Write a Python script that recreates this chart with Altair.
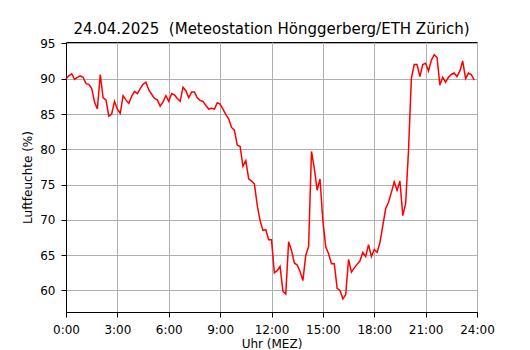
import altair as alt
import pandas as pd

# Relative humidity (%) at 10-minute steps, 00:00 .. 23:50
humidity = [
    90.0, 90.4, 90.7, 89.9, 90.2, 90.4, 90.2, 89.3, 89.2, 88.6,
    86.7, 85.7, 90.6, 87.3, 87.0, 84.7, 85.0, 86.8, 85.7, 85.1,
    87.6, 87.0, 86.5, 87.5, 88.2, 87.9, 88.6, 89.2, 89.5, 88.4,
    87.8, 87.2, 87.0, 86.1, 86.7, 87.6, 86.8, 87.9, 87.7, 87.2,
    86.8, 88.8, 88.3, 87.3, 88.1, 88.1, 87.3, 86.9, 86.8, 86.2,
    85.7, 85.8, 85.7, 86.6, 86.4, 85.7, 84.9, 84.3, 83.1, 82.7,
    80.6, 80.4, 77.6, 78.4, 75.8, 75.5, 75.1, 72.1, 69.9, 68.5,
    68.6, 67.2, 67.2, 62.5, 62.8, 63.4, 59.9, 59.5, 66.9, 65.7,
    63.9, 63.6, 62.7, 61.4, 65.0, 66.2, 79.7, 77.3, 74.2, 75.8,
    69.9, 66.2, 65.2, 63.8, 63.8, 60.3, 60.0, 58.8, 59.4, 64.4,
    62.6, 63.2, 63.7, 64.2, 65.4, 64.8, 66.5, 64.8, 65.8, 65.4,
    66.8, 69.2, 71.6, 72.5, 73.9, 75.4, 74.2, 75.5, 70.6, 72.3,
    79.8, 90.0, 92.0, 92.0, 90.3, 92.0, 92.2, 91.1, 92.6, 93.4,
    93.0, 89.1, 90.2, 89.5, 90.2, 90.6, 90.8, 90.3, 91.1, 92.5,
    90.0, 90.8, 90.6, 89.8,
]
minutes = list(range(0, 1440, 10))
tick_hours = [0, 3, 6, 9, 12, 15, 18, 21, 24]
tick_values = [60, 65, 70, 75, 80, 85, 90, 95]

title_text = "24.04.2025\u00a0 (Meteostation Hönggerberg/ETH Zürich)"

df = pd.DataFrame({"hour": [m / 60 for m in minutes], "rh": humidity})

FONT = "DejaVu Sans"

chart = (
    alt.Chart(df)
    .mark_line(color="#ff0000", strokeWidth=1.5)
    .encode(
        x=alt.X(
            "hour:Q",
            scale=alt.Scale(domain=[0, 24], nice=False, zero=False),
            axis=alt.Axis(
                values=tick_hours,
                labelExpr="datum.value + ':00'",
                title="Uhr (MEZ)",
                titleY=35,
                titleBaseline="alphabetic",
                labelBaseline="alphabetic",
                labelPadding=16,
                labelFlush=False,
            ),
        ),
        y=alt.Y(
            "rh:Q",
            scale=alt.Scale(domain=[56.95, 95.2], nice=False, zero=False),
            axis=alt.Axis(
                values=tick_values,
                title="Luftfeuchte (%)",
                titleX=-39,
                titleY=135,
                titleAlign="center",
                titleBaseline="middle",
                titleAngle=-90,
                labelPadding=6,
            ),
        ),
    )
    .properties(
        width=411,
        height=270,
        title=alt.TitleParams(
            text=title_text,
            font=FONT,
            fontSize=15,
            fontWeight="normal",
            color="black",
            anchor="middle",
            baseline="alphabetic",
            frame="group",
            offset=8,
            dy=20,
        ),
        autosize=alt.AutoSizeParams(type="none"),
        padding={"left": 58, "top": 34, "right": 45, "bottom": 38},
        background="white",
    )
    .configure_view(stroke="black", strokeWidth=1)
    .configure_axis(
        labelFont=FONT,
        titleFont=FONT,
        labelFontSize=12,
        titleFontSize=12,
        titleFontWeight="normal",
        labelColor="black",
        titleColor="black",
        domainColor="black",
        domainWidth=1,
        tickColor="black",
        tickWidth=1,
        tickSize=5,
        grid=True,
        gridColor="#b0b0b0",
        gridWidth=1,
    )
)

chart.save("out.html", embed_options={"renderer": "svg", "actions": False})
